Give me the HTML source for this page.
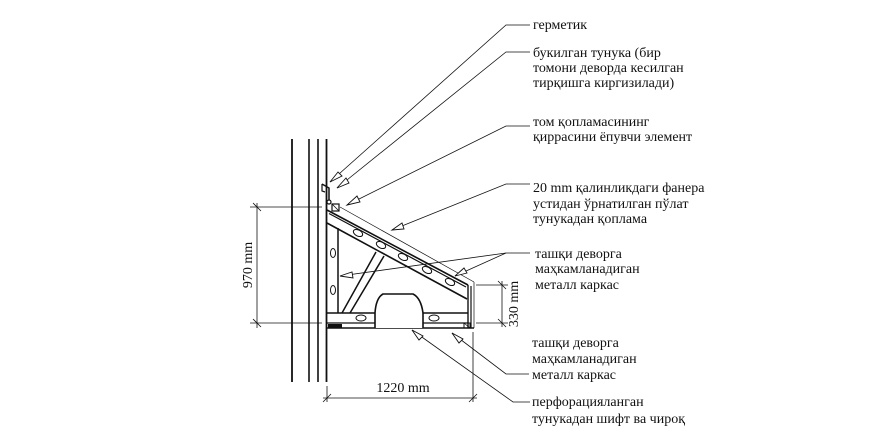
<!DOCTYPE html>
<html><head><meta charset="utf-8"><style>
html,body{margin:0;padding:0;background:#fff;}
svg{display:block;}
text{font-family:"Liberation Serif",serif;font-size:14px;fill:#111;}
</style></head><body>
<svg width="881" height="435" viewBox="0 0 881 435" xmlns="http://www.w3.org/2000/svg">
<g stroke="#111" fill="none">
<!-- wall -->
<line x1="292" y1="139" x2="292" y2="382" stroke-width="1.8"/>
<line x1="309" y1="139" x2="309" y2="382" stroke-width="1.6"/>
<line x1="318" y1="139" x2="318" y2="382" stroke-width="1.6"/>
<line x1="326.5" y1="139" x2="326.5" y2="382" stroke-width="1.8"/>
<!-- flashing hook -->
<path d="M322,184 L329,188 L329,200" stroke-width="1.5"/>
<path d="M322,184 L322,191 L325,192" stroke-width="1.2"/>
<circle cx="329" cy="202" r="2" stroke-width="1.2" fill="#fff"/>
<rect x="332" y="204" width="7" height="7" stroke-width="1.2"/>
<line x1="332" y1="204" x2="339" y2="211" stroke-width="0.8"/>
<!-- slope -->
<line x1="327" y1="210" x2="468" y2="285" stroke-width="1.6"/>
<line x1="329" y1="213.5" x2="466" y2="287" stroke-width="1.2"/>
<line x1="340" y1="207" x2="474" y2="282" stroke-width="0.7"/>
<line x1="327" y1="223" x2="467" y2="299" stroke-width="1.6"/>
<!-- right edge -->
<line x1="468" y1="285" x2="468" y2="328" stroke-width="1.4"/>
<line x1="471" y1="286" x2="471" y2="328" stroke-width="1.2"/>
<line x1="474" y1="282" x2="474" y2="328" stroke-width="0.7"/>
<!-- post -->
<line x1="338" y1="228" x2="338" y2="313" stroke-width="1.5"/>
<!-- brace -->
<line x1="342" y1="313" x2="376" y2="252" stroke-width="1.5"/>
<line x1="350" y1="313" x2="384" y2="256" stroke-width="1.5"/>
<!-- bottom beam -->
<line x1="327" y1="313" x2="468" y2="313" stroke-width="1.5"/>
<line x1="327" y1="323" x2="468" y2="323" stroke-width="1.2"/>
<line x1="327" y1="328" x2="474" y2="328" stroke-width="1.6"/>
<rect x="328" y="324" width="14" height="4" fill="#111" stroke="none"/>
<rect x="464" y="323" width="6" height="5" stroke-width="1"/>
<line x1="464" y1="323" x2="470" y2="328" stroke-width="0.7"/>
<!-- arch -->
<path d="M375,328 L375,313 Q376,298 383,294 L413,294 Q421,298 423,313 L423,328" stroke-width="1.6" fill="#fff"/>
<!-- ovals -->
<g stroke-width="1">
<ellipse cx="358" cy="233" rx="5" ry="3" transform="rotate(28 358 233)"/>
<ellipse cx="381" cy="245" rx="5" ry="3" transform="rotate(28 381 245)"/>
<ellipse cx="403" cy="257" rx="5" ry="3" transform="rotate(28 403 257)"/>
<ellipse cx="427" cy="270" rx="5" ry="3" transform="rotate(28 427 270)"/>
<ellipse cx="450" cy="282" rx="5" ry="3" transform="rotate(28 450 282)"/>
<ellipse cx="333" cy="253" rx="2.5" ry="4.5"/>
<ellipse cx="333" cy="290" rx="2.5" ry="4.5"/>
<ellipse cx="361" cy="318" rx="5" ry="3"/>
<ellipse cx="434" cy="318" rx="5" ry="3"/>
</g>
<!-- dimensions -->
<g stroke-width="0.8">
<line x1="250" y1="207" x2="322" y2="207"/>
<line x1="250" y1="323" x2="322" y2="323"/>
<line x1="257" y1="203" x2="257" y2="328"/>
<line x1="253" y1="203" x2="261" y2="211"/><line x1="253" y1="319" x2="261" y2="327"/>
<line x1="476" y1="285" x2="508" y2="285"/>
<line x1="476" y1="323" x2="508" y2="323"/>
<line x1="502" y1="281" x2="502" y2="327"/>
<line x1="498" y1="281" x2="506" y2="289"/><line x1="498" y1="319" x2="506" y2="327"/>
<line x1="327" y1="386" x2="327" y2="402"/>
<line x1="473" y1="332" x2="473" y2="402"/>
<line x1="323" y1="398" x2="477" y2="398"/>
<line x1="323" y1="402" x2="331" y2="394"/><line x1="469" y1="402" x2="477" y2="394"/>
</g>
<!-- leaders -->
<g stroke-width="0.8">
<polyline points="530,25 506,25 330,182"/>
<polyline points="530,52 506,52 337,188"/>
<polyline points="530,126 506,126 347,205"/>
<polyline points="530,184 506,184 392,230"/>
<polyline points="530,253 506,253 340,276"/>
<line x1="506" y1="253" x2="455" y2="276"/>
<polyline points="529,374 506,374 452,333"/>
<polyline points="530,402 513,402 412,330"/>
</g>
<!-- arrowheads -->
<g stroke-width="0.9" fill="#fff">
<polygon points="330,182 342,176 338,172" />
<polygon points="337,188 349,183 346,178" />
<polygon points="347,205 360,202 357,196" />
<polygon points="392,230 404,229 402,223" />
<polygon points="340,276 352,272 353,278" />
<polygon points="455,276 464,268 467,273" />
<polygon points="452,333 459,343 463,339" />
<polygon points="412,330 419,340 423,336" />
</g>
</g>
<text x="533" y="29">герметик</text>
<text x="533" y="57">букилган тунука (бир</text>
<text x="533" y="72">томони деворда кесилган</text>
<text x="533" y="87">тирқишга киргизилади)</text>
<text x="533" y="126">том қопламасининг</text>
<text x="533" y="141">қиррасини ёпувчи элемент</text>
<text x="533" y="192">20 mm қалинликдаги фанера</text>
<text x="533" y="208">устидан ўрнатилган пўлат</text>
<text x="533" y="223">тунукадан қоплама</text>
<text x="535" y="258">ташқи деворга</text>
<text x="535" y="273">маҳкамланадиган</text>
<text x="535" y="289">металл каркас</text>
<text x="532" y="347">ташқи деворга</text>
<text x="532" y="363">маҳкамланадиган</text>
<text x="532" y="379">металл каркас</text>
<text x="532" y="406">перфорацияланган</text>
<text x="532" y="423">тунукадан шифт ва чироқ</text>
<text x="403" y="392" text-anchor="middle">1220 mm</text>
<text transform="translate(252,265) rotate(-90)" text-anchor="middle">970 mm</text>
<text transform="translate(518,304) rotate(-90)" text-anchor="middle">330 mm</text>
</svg>
</body></html>
